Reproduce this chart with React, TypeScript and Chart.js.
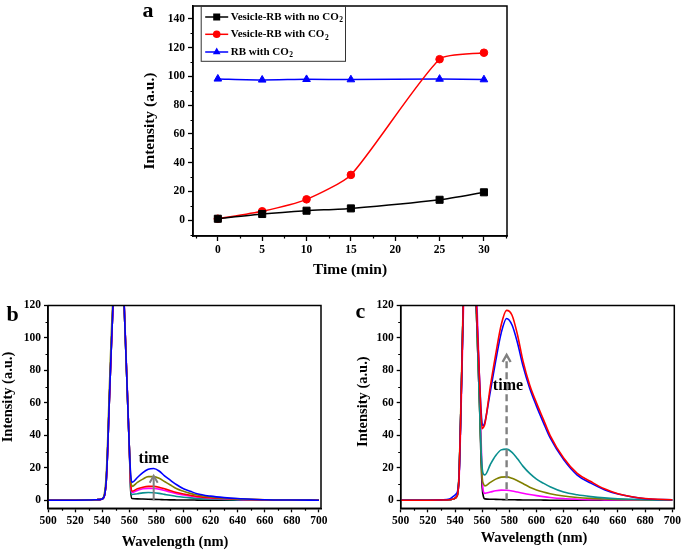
import React, { useEffect, useRef } from 'react';
import { Chart, registerables } from 'chart.js';

Chart.register(...registerables);

const FONT = '"Liberation Serif", "Times New Roman", Times, serif';

// ---------- Panel a ----------
const TIME_MIN = [0, 5, 10, 15, 25, 30];
const VESICLE_NO_CO2 = [1, 4.3, 6.6, 8.2, 14.2, 19.4];
const VESICLE_CO2 = [1, 6.2, 14.5, 31.5, 112, 116.5];
const RB_CO2 = [98.3, 97.6, 98, 97.8, 98.2, 97.8];
const A_SERIES_NAMES = ['Vesicle-RB with no CO₂', 'Vesicle-RB with CO₂', 'RB with CO₂'];
const A_X_TICKS = [0, 5, 10, 15, 20, 25, 30];
const A_Y_TICKS = [0, 20, 40, 60, 80, 100, 120, 140];

// ---------- Panels b, c (spectra) ----------
const WAVELENGTH = [500, 520, 530, 536, 539, 541, 542, 543, 544, 545, 546, 547, 548, 550, 552, 554, 555, 556, 557, 558, 559, 560, 561, 562, 566, 570, 574, 578, 582, 586, 590, 595, 600, 605, 610, 620, 630, 640, 650, 660, 680, 700];
const SPEC_X_TICKS = [500, 520, 540, 560, 580, 600, 620, 640, 660, 680, 700];
const SPEC_Y_TICKS = [0, 20, 40, 60, 80, 100, 120];

const B_BLACK = [0, 0, 0.1, 0.3, 0.5, 1.5, 4, 12, 30, 55, 78, 100, 122, 200, 250, 180, 148, 125, 102, 79, 56, 33, 6, 1, 0.8, 0.7, 0.6, 0.5, 0.4, 0.3, 0.2, 0.15, 0.1, 0.1, 0.05, 0, 0, 0, 0, 0, 0, 0];
const B_TEAL = [0, 0, 0.1, 0.3, 0.5, 1.5, 4, 12, 30, 55, 78, 100, 122, 200, 250, 180, 148, 125, 102, 79, 56, 33, 8, 3.5, 4, 4.5, 4.7, 4.6, 4.2, 3.6, 3, 2.3, 1.8, 1.4, 1.1, 0.7, 0.4, 0.2, 0.1, 0.05, 0, 0];
const B_MAGENTA = [0, 0, 0.1, 0.3, 0.5, 1.5, 4, 12, 30, 55, 78, 100, 122, 200, 250, 180, 150, 127, 104, 81, 58, 33, 10, 4.8, 6, 7, 7.3, 7.2, 6.8, 6, 5, 4, 3.2, 2.6, 2, 1.3, 0.9, 0.5, 0.3, 0.2, 0.1, 0];
const B_RED = [0, 0, 0.1, 0.3, 0.5, 1.5, 4, 12, 30, 55, 78, 100, 122, 200, 250, 180, 148, 125, 102, 79, 56, 33, 11, 5.5, 7, 8, 8.5, 8.5, 8, 7, 6, 4.8, 3.8, 3, 2.3, 1.5, 1, 0.6, 0.4, 0.2, 0.1, 0];
const B_OLIVE = [0, 0, 0.1, 0.3, 0.6, 2, 6, 16, 36, 62, 86, 108, 128, 200, 250, 180, 148, 125, 102, 79, 56, 33, 14, 8.5, 11, 13, 14.5, 14.5, 13.5, 11.5, 9.5, 7, 5.5, 4.2, 3.2, 2, 1.3, 0.8, 0.5, 0.3, 0.1, 0];
const B_BLUE = [0, 0, 0.1, 0.3, 0.5, 1.5, 4, 12, 30, 55, 78, 100, 122, 200, 250, 180, 148, 125, 102, 79, 56, 33, 16, 11, 14, 17, 19, 19.5, 18, 15, 12.5, 9.5, 7, 5.5, 4, 2.5, 1.6, 1, 0.6, 0.3, 0.1, 0];

const C_BLACK = [0, 0, 0.1, 0.3, 0.8, 2, 4, 15, 45, 80, 118, 150, 190, 250, 250, 170, 135, 110, 85, 60, 30, 8, 2, 0.8, 0.6, 0.5, 0.4, 0.3, 0.25, 0.2, 0.15, 0.1, 0.1, 0.05, 0, 0, 0, 0, 0, 0, 0, 0];
const C_MAGENTA = [0, 0, 0.1, 0.3, 0.8, 2, 4, 13, 40, 74, 110, 145, 185, 250, 250, 180, 145, 125, 100, 75, 45, 15, 5, 4.2, 5, 5.8, 6.2, 6.1, 5.7, 5, 4.3, 3.5, 2.8, 2.2, 1.7, 1, 0.6, 0.3, 0.2, 0.1, 0, 0];
const C_OLIVE = [0, 0, 0.1, 0.3, 0.8, 2, 5, 17, 48, 84, 122, 155, 195, 250, 250, 170, 135, 110, 85, 60, 35, 14, 10, 8.8, 11, 13, 14.2, 14.4, 13.5, 12, 10.3, 8, 6.3, 5, 4, 2.6, 1.7, 1.1, 0.7, 0.4, 0.1, 0];
const C_TEAL = [0, 0, 0.1, 0.3, 0.8, 2, 4, 15, 45, 80, 118, 150, 190, 250, 250, 170, 135, 110, 85, 60, 35, 20, 16, 15.6, 22, 27.5, 31, 31.5, 29.5, 25.5, 21, 16.5, 13, 10.5, 8.3, 5, 3.3, 2.2, 1.4, 0.9, 0.3, 0.1];
const C_BLUE = [0, 0, 0.2, 0.8, 2.5, 4, 6, 15, 45, 80, 118, 150, 190, 250, 250, 170, 135, 115, 95, 75, 58, 47, 46, 48, 67, 86, 103, 112, 108, 97, 83, 69, 58, 48, 38.5, 25, 15.5, 10.5, 6.5, 3.8, 0.9, 0.3];
const C_RED = [0, 0, 0.1, 0.3, 0.8, 2, 4, 15, 45, 80, 118, 150, 190, 250, 250, 170, 135, 115, 95, 75, 56, 44, 45, 47, 70, 90, 108, 117, 114, 102, 86, 71, 60, 50, 40, 26, 16.5, 11.5, 7, 4, 1, 0.3];

// arrow annotations (data units)
const B_ARROW = { x: 578, from: 0, to: 15, dashed: false };
const C_ARROW = { x: 578, from: 0, to: 89.5, dashed: true };
const B_TIME_LABEL = { x: 578, y: 25.5, text: 'time' };
const C_TIME_LABEL = { x: 579, y: 70.5, text: 'time' };

const COLORS = {
  black: '#000000',
  teal: '#0A8F8F',
  magenta: '#FF00FF',
  red: '#FF0000',
  olive: '#808000',
  blue: '#0000FF',
};

type AxisOpts = {
  min: number;
  max: number;
  ticks: number[];
  title: string;
  titleSize: number;
  titlePad: { top: number; bottom: number };
  showTitle: boolean;
  size: number;
  horizontal: boolean;
  tickLength: number;
  tickPad: number;
};

function makeAxis(o: AxisOpts): any {
  return {
    type: 'linear',
    position: o.horizontal ? 'bottom' : 'left',
    min: o.min,
    max: o.max,
    afterBuildTicks: (s: any) => {
      s.ticks = o.ticks.map((v) => ({ value: v }));
    },
    afterFit: (s: any) => {
      if (o.horizontal) s.height = o.size;
      else s.width = o.size;
      s.paddingTop = 0;
      s.paddingBottom = 0;
      s.paddingLeft = 0;
      s.paddingRight = 0;
    },
    grid: {
      display: true,
      drawOnChartArea: false,
      drawTicks: true,
      tickLength: o.tickLength,
      tickColor: '#000',
      tickWidth: 1.3,
      color: '#000',
    },
    border: { display: true, color: '#000', width: 1.5 },
    ticks: {
      color: '#000',
      font: { family: FONT, size: 11.5, weight: 'bold' },
      padding: o.tickPad,
      maxRotation: 0,
      minRotation: 0,
      autoSkip: false,
      callback: (v: any) => String(v),
    },
    title: {
      display: o.showTitle,
      text: o.title,
      color: '#000',
      font: { family: FONT, size: o.titleSize, weight: 'bold' },
      padding: o.titlePad,
    },
  };
}

function decorPlugin(opts: {
  minorX: number[];
  minorY: number[];
  panelLabel: { text: string; x: number; y: number; size: number };
  extra?: (chart: any) => void;
}) {
  return {
    id: 'decor_' + opts.panelLabel.text,
    afterDraw(chart: any) {
      const { ctx, chartArea: a, scales } = chart;
      const xs = scales.x;
      const ys = scales.y;
      ctx.save();
      ctx.strokeStyle = '#000';
      ctx.lineWidth = 1.2;
      ctx.beginPath();
      opts.minorX.forEach((v) => {
        if (v < xs.min || v > xs.max) return;
        const px = Math.round(xs.getPixelForValue(v)) + 0.5;
        ctx.moveTo(px, a.bottom);
        ctx.lineTo(px, a.bottom + 2.5);
      });
      opts.minorY.forEach((v) => {
        if (v < ys.min || v > ys.max) return;
        const py = Math.round(ys.getPixelForValue(v)) + 0.5;
        ctx.moveTo(a.left, py);
        ctx.lineTo(a.left - 2.5, py);
      });
      ctx.stroke();
      ctx.lineWidth = 1.5;
      ctx.strokeRect(a.left, a.top, a.right - a.left, a.bottom - a.top);
      if (opts.extra) opts.extra(chart);
      ctx.fillStyle = '#000';
      ctx.font = `bold ${opts.panelLabel.size}px ${FONT}`;
      ctx.textAlign = 'center';
      ctx.textBaseline = 'middle';
      ctx.fillText(opts.panelLabel.text, opts.panelLabel.x, opts.panelLabel.y);
      ctx.restore();
    },
  };
}

function midpoints(ticks: number[], lo: number, hi: number): number[] {
  const step = ticks[1] - ticks[0];
  const out: number[] = [];
  for (let i = -1; i < ticks.length; i++) {
    const v = ticks[0] + step * (i + 0.5);
    if (v >= lo && v <= hi) out.push(v);
  }
  return out;
}

function drawSubLabel(ctx: any, text: string, x: number, y: number, size: number) {
  const base = text.replace('₂', '');
  ctx.font = `bold ${size}px ${FONT}`;
  ctx.textAlign = 'left';
  ctx.textBaseline = 'middle';
  ctx.fillText(base, x, y);
  const w = ctx.measureText(base).width;
  ctx.font = `bold ${size * 0.68}px ${FONT}`;
  ctx.fillText('2', x + w + 0.5, y + 3.5);
}

function ChartCanvas({ left, top, width, height, build }: { left: number; top: number; width: number; height: number; build: () => any }) {
  const ref = useRef<HTMLCanvasElement>(null);
  useEffect(() => {
    const chart = new Chart(ref.current as HTMLCanvasElement, build());
    return () => chart.destroy();
  }, []);
  return (
    <canvas
      ref={ref}
      width={width}
      height={height}
      style={{ position: 'absolute', left, top, width, height, display: 'block' }}
    />
  );
}

function buildA() {
  const mk = (ys: number[]) => TIME_MIN.map((t, i) => ({ x: t, y: ys[i] }));
  const datasets: any[] = [
    { label: A_SERIES_NAMES[0], data: mk(VESICLE_NO_CO2), borderColor: COLORS.black, backgroundColor: COLORS.black, pointStyle: 'rect', pointRadius: 5, borderWidth: 1.5, pointBorderWidth: 1 },
    { label: A_SERIES_NAMES[1], data: mk(VESICLE_CO2), borderColor: COLORS.red, backgroundColor: COLORS.red, pointStyle: 'circle', pointRadius: 3.8, borderWidth: 1.5, pointBorderWidth: 1 },
    { label: A_SERIES_NAMES[2], data: mk(RB_CO2), borderColor: COLORS.blue, backgroundColor: COLORS.blue, pointStyle: 'triangle', pointRadius: 4.4, borderWidth: 1.5, pointBorderWidth: 1 },
  ];
  datasets.forEach((d) => { d.tension = 0.2; d.fill = false; });

  const legendExtra = (chart: any) => {
    const ctx = chart.ctx;
    const a = chart.chartArea;
    const boxL = a.left + 7.7;
    const boxT = a.top;
    const boxW = 144.3;
    const boxH = 55.3;
    ctx.strokeStyle = '#333';
    ctx.lineWidth = 1;
    ctx.strokeRect(boxL + 0.5, boxT, boxW, boxH);
    const rows = [11, 28.3, 46];
    chart.data.datasets.forEach((ds: any, i: number) => {
      const y = boxT + rows[i];
      ctx.strokeStyle = ds.borderColor;
      ctx.fillStyle = ds.backgroundColor;
      ctx.lineWidth = 1.5;
      ctx.beginPath();
      ctx.moveTo(boxL + 4.5, y);
      ctx.lineTo(boxL + 27.5, y);
      ctx.stroke();
      const cx = boxL + 16;
      ctx.beginPath();
      if (ds.pointStyle === 'rect') {
        ctx.rect(cx - 3.5, y - 3.5, 7, 7);
      } else if (ds.pointStyle === 'circle') {
        ctx.arc(cx, y, 3.8, 0, Math.PI * 2);
      } else {
        const r = 4.4;
        ctx.moveTo(cx, y - r);
        ctx.lineTo(cx + r * 0.866, y + r * 0.5);
        ctx.lineTo(cx - r * 0.866, y + r * 0.5);
        ctx.closePath();
      }
      ctx.fill();
      ctx.fillStyle = '#000';
      drawSubLabel(ctx, ds.label, boxL + 30, y, 11);
    });
  };

  return {
    type: 'line',
    data: { datasets },
    options: {
      animation: false,
      responsive: false,
      devicePixelRatio: 1,
      layout: { padding: { left: 0, top: 4, right: 23, bottom: 0 } },
      plugins: { legend: { display: false }, tooltip: { enabled: false } },
      scales: {
        x: makeAxis({ min: -2.8, max: 32.6, ticks: A_X_TICKS, title: 'Time (min)', titleSize: 15.5, titlePad: { top: 0, bottom: 11 }, showTitle: true, size: 54, horizontal: true, tickLength: 5, tickPad: 2 }),
        y: makeAxis({ min: -11, max: 149, ticks: A_Y_TICKS, title: 'Intensity (a.u.)', titleSize: 15.5, titlePad: { top: 11, bottom: 0 }, showTitle: true, size: 63, horizontal: false, tickLength: 5, tickPad: 3 }),
      },
    },
    plugins: [
      decorPlugin({
        minorX: midpoints(A_X_TICKS, -2.8, 32.6),
        minorY: midpoints(A_Y_TICKS, -11, 149),
        panelLabel: { text: 'a', x: 18, y: 11, size: 22 },
        extra: legendExtra,
      }),
    ],
  };
}

function buildSpectra(cfg: {
  series: { data: number[]; color: string; label: string }[];
  arrow: { x: number; from: number; to: number; dashed: boolean };
  timeLabel: { x: number; y: number; text: string };
  panel: { text: string; x: number; y: number; size: number };
  yAxisWidth: number;
  rightPad: number;
  titles: { xTitle: string; yTitle: string; xPos: [number, number]; yPos: [number, number] };
}) {
  const n = cfg.series.length;
  const datasets = cfg.series.map((s, i) => ({
    label: s.label,
    data: WAVELENGTH.map((w, k) => ({ x: w, y: s.data[k] })),
    borderColor: s.color,
    backgroundColor: s.color,
    borderWidth: 1.6,
    pointRadius: 0,
    cubicInterpolationMode: 'monotone',
    fill: false,
    order: n - i,
  }));

  const extra = (chart: any) => {
    const { ctx, scales } = chart;
    const xs = scales.x;
    const ys = scales.y;
    const px = xs.getPixelForValue(cfg.arrow.x);
    const y0 = ys.getPixelForValue(cfg.arrow.from);
    const y1 = ys.getPixelForValue(cfg.arrow.to);
    ctx.save();
    ctx.strokeStyle = '#808080';
    ctx.lineWidth = cfg.arrow.dashed ? 2.4 : 2;
    ctx.setLineDash(cfg.arrow.dashed ? [7, 4] : []);
    ctx.beginPath();
    ctx.moveTo(px, y0);
    ctx.lineTo(px, y1 + 1);
    ctx.stroke();
    ctx.setLineDash([]);
    ctx.beginPath();
    ctx.moveTo(px - 4, y1 + 7);
    ctx.lineTo(px, y1);
    ctx.lineTo(px + 4, y1 + 7);
    ctx.stroke();
    ctx.fillStyle = '#000';
    ctx.font = `bold 16px ${FONT}`;
    ctx.textAlign = 'center';
    ctx.textBaseline = 'middle';
    ctx.fillText(cfg.timeLabel.text, xs.getPixelForValue(cfg.timeLabel.x), ys.getPixelForValue(cfg.timeLabel.y));
    // axis titles
    ctx.font = `bold 14.5px ${FONT}`;
    ctx.fillText(cfg.titles.xTitle, cfg.titles.xPos[0], cfg.titles.xPos[1]);
    ctx.translate(cfg.titles.yPos[0], cfg.titles.yPos[1]);
    ctx.rotate(-Math.PI / 2);
    ctx.fillText(cfg.titles.yTitle, 0, 0);
    ctx.restore();
  };

  return {
    type: 'line',
    data: { datasets },
    options: {
      animation: false,
      responsive: false,
      devicePixelRatio: 1,
      layout: { padding: { left: 0, top: 15.5, right: cfg.rightPad, bottom: 0 } },
      plugins: { legend: { display: false }, tooltip: { enabled: false } },
      scales: {
        x: makeAxis({ min: 500, max: 701.5, ticks: SPEC_X_TICKS, title: cfg.titles.xTitle, titleSize: 14.5, titlePad: { top: 0, bottom: 0 }, showTitle: false, size: 42.7, horizontal: true, tickLength: 4, tickPad: 2 }),
        y: makeAxis({ min: -5, max: 120, ticks: SPEC_Y_TICKS, title: cfg.titles.yTitle, titleSize: 14.5, titlePad: { top: 0, bottom: 0 }, showTitle: false, size: cfg.yAxisWidth, horizontal: false, tickLength: 4, tickPad: 3 }),
      },
    },
    plugins: [
      decorPlugin({
        minorX: midpoints(SPEC_X_TICKS, 500, 701.5),
        minorY: midpoints(SPEC_Y_TICKS, -5, 120),
        panelLabel: cfg.panel,
        extra,
      }),
    ],
  };
}

const buildB = () =>
  buildSpectra({
    series: [
      { label: '0 min', data: B_BLACK, color: COLORS.black },
      { label: '5 min', data: B_TEAL, color: COLORS.teal },
      { label: '10 min', data: B_MAGENTA, color: COLORS.magenta },
      { label: '15 min', data: B_RED, color: COLORS.red },
      { label: '25 min', data: B_OLIVE, color: COLORS.olive },
      { label: '30 min', data: B_BLUE, color: COLORS.blue },
    ],
    arrow: B_ARROW,
    timeLabel: B_TIME_LABEL,
    panel: { text: 'b', x: 12.5, y: 25, size: 22 },
    yAxisWidth: 48,
    rightPad: 19,
    titles: { xTitle: 'Wavelength (nm)', yTitle: 'Intensity (a.u.)', xPos: [175, 252], yPos: [8.5, 107] },
  });

const buildC = () =>
  buildSpectra({
    series: [
      { label: '0 min', data: C_BLACK, color: COLORS.black },
      { label: '5 min', data: C_MAGENTA, color: COLORS.magenta },
      { label: '10 min', data: C_OLIVE, color: COLORS.olive },
      { label: '15 min', data: C_TEAL, color: COLORS.teal },
      { label: '25 min', data: C_BLUE, color: COLORS.blue },
      { label: '30 min', data: C_RED, color: COLORS.red },
    ],
    arrow: C_ARROW,
    timeLabel: C_TIME_LABEL,
    panel: { text: 'c', x: 20.5, y: 22.5, size: 22 },
    yAxisWidth: 60.7,
    rightPad: 10.7,
    titles: { xTitle: 'Wavelength (nm)', yTitle: 'Intensity (a.u.)', xPos: [194, 248], yPos: [23.3, 111.7] },
  });

export default function App() {
  return (
    <div style={{ position: 'absolute', left: 0, top: 0, width: 685, height: 551, background: '#fff', overflow: 'hidden' }}>
      <ChartCanvas left={130} top={0} width={400} height={290} build={buildA} />
      <ChartCanvas left={0} top={290} width={340} height={261} build={buildB} />
      <ChartCanvas left={340} top={290} width={345} height={261} build={buildC} />
    </div>
  );
}
